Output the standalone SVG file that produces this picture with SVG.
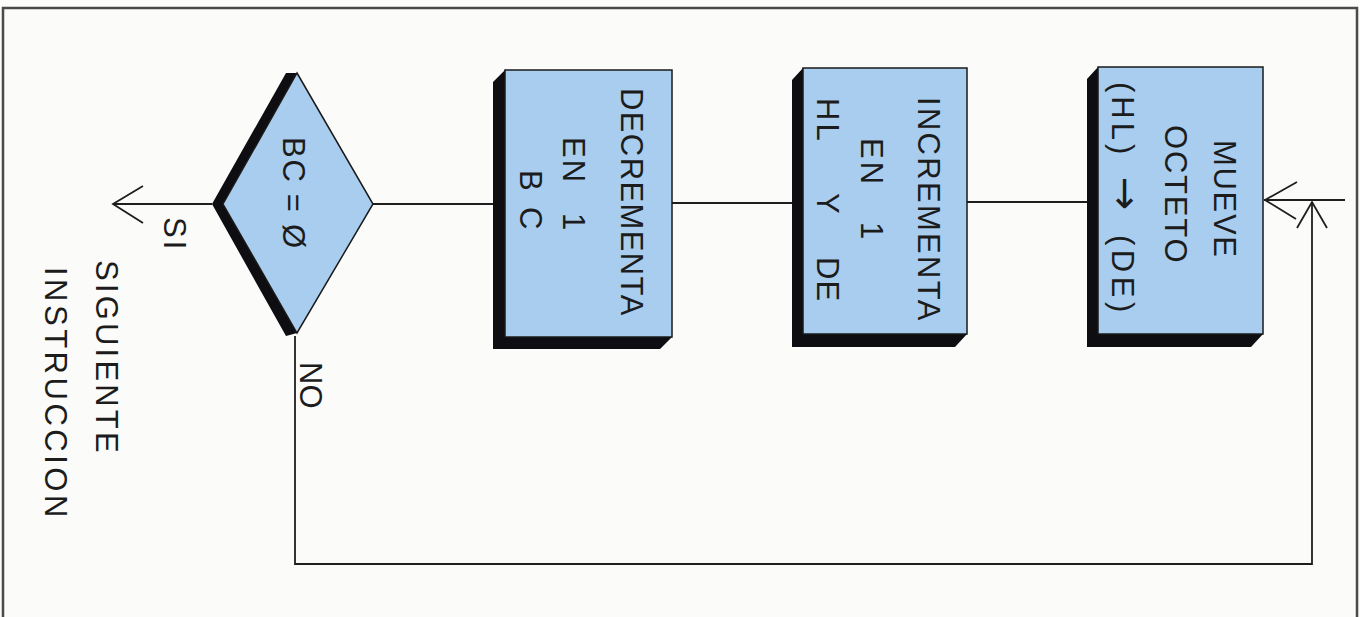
<svg xmlns="http://www.w3.org/2000/svg" width="1360" height="617" viewBox="0 0 1360 617">
<style>
.bg{fill:#fbfbf9}
.frame{fill:none;stroke:#4a4a4a;stroke-width:2.5}
.fill{fill:#a9cdee;stroke:#1a1a1a;stroke-width:1.5}
.shadow{fill:#0d0d12}
.line{fill:none;stroke:#1e1e1e;stroke-width:1.8}
.t{font-family:"Liberation Sans",Arial,sans-serif;font-size:31px;fill:#1c1c1c;text-anchor:start}
.arr{font-family:"DejaVu Sans",sans-serif;font-size:40px}
</style>
<rect class="bg" x="0" y="0" width="1360" height="617"/>
<path class="frame" d="M3,630 L3,8 L1357,8 L1357,630"/>

<g id="connectors">
  <line class="line" x1="113" y1="204" x2="212" y2="204"/>
  <polyline class="line" points="143,186 113,204 143,223"/>
  <line class="line" x1="373" y1="204" x2="494" y2="204"/>
  <line class="line" x1="672" y1="203" x2="792" y2="203"/>
  <line class="line" x1="967" y1="202" x2="1087" y2="202"/>
  <line class="line" x1="1264" y1="200" x2="1345" y2="200"/>
  <polyline class="line" points="1297,182 1265,200 1296,219"/>
  <polyline class="line" points="295,336 295,564 1312,564 1312,202"/>
  <polyline class="line" points="1297,228 1312,202 1327,228"/>
</g>

<g id="decision">
  <polygon class="shadow" points="286,73 297,73 223,204 297,333 286,336 212,204"/>
  <polygon class="fill" points="297,73 373,204 297,333 223,204"/>
  <text class="t" transform="translate(283,0) rotate(90)" x="137" style="letter-spacing:1.7px">BC = Ø</text>
</g>

<g id="decrementa">
  <polygon class="shadow" points="505,70 493,82 493,349 660,349 672,337 505,337"/>
  <rect class="fill" x="505" y="70" width="167" height="267"/>
  <text class="t" transform="translate(621,0) rotate(90)" x="88" style="letter-spacing:1.4px">DECREMENTA</text>
  <text class="t" transform="translate(563,0) rotate(90)"><tspan x="137" style="letter-spacing:2px">EN</tspan><tspan x="213">1</tspan></text>
  <text class="t" transform="translate(520,0) rotate(90)"><tspan x="170">B</tspan><tspan x="207">C</tspan></text>
</g>

<g id="incrementa">
  <polygon class="shadow" points="803,68 792,80 792,347 955,347 967,334 803,334"/>
  <rect class="fill" x="803" y="68" width="164" height="266"/>
  <text class="t" transform="translate(918,0) rotate(90)" x="97" style="letter-spacing:2.3px">INCREMENTA</text>
  <text class="t" transform="translate(861,0) rotate(90)"><tspan x="138" style="letter-spacing:3px">EN</tspan><tspan x="222">1</tspan></text>
  <text class="t" transform="translate(817,0) rotate(90)"><tspan x="98" style="letter-spacing:3px">HL</tspan><tspan x="193">Y</tspan><tspan x="257" style="letter-spacing:1px">DE</tspan></text>
</g>

<g id="mueve">
  <polygon class="shadow" points="1098,67 1087,79 1087,347 1251,347 1263,334 1098,334"/>
  <rect class="fill" x="1098" y="67" width="165" height="267"/>
  <text class="t" transform="translate(1214,0) rotate(90)" x="140" style="letter-spacing:1.7px">MUEVE</text>
  <text class="t" transform="translate(1165,0) rotate(90)" x="125" style="letter-spacing:1.8px">OCTETO</text>
  <text class="t" transform="translate(1112,0) rotate(90)"><tspan x="82" style="letter-spacing:4px">(HL)</tspan><tspan x="177" class="arr">→</tspan><tspan x="235" style="letter-spacing:4.5px">(DE)</tspan></text>
</g>

<g id="labels">
  <text class="t" transform="translate(164,0) rotate(90)" x="217" style="letter-spacing:3px">SI</text>
  <text class="t" transform="translate(300,0) rotate(90)" x="362">NO</text>
  <text class="t" transform="translate(96,0) rotate(90)" x="260" style="letter-spacing:3.2px">SIGUIENTE</text>
  <text class="t" transform="translate(45,0) rotate(90)" x="267" style="letter-spacing:3.5px">INSTRUCCION</text>
</g>
</svg>
